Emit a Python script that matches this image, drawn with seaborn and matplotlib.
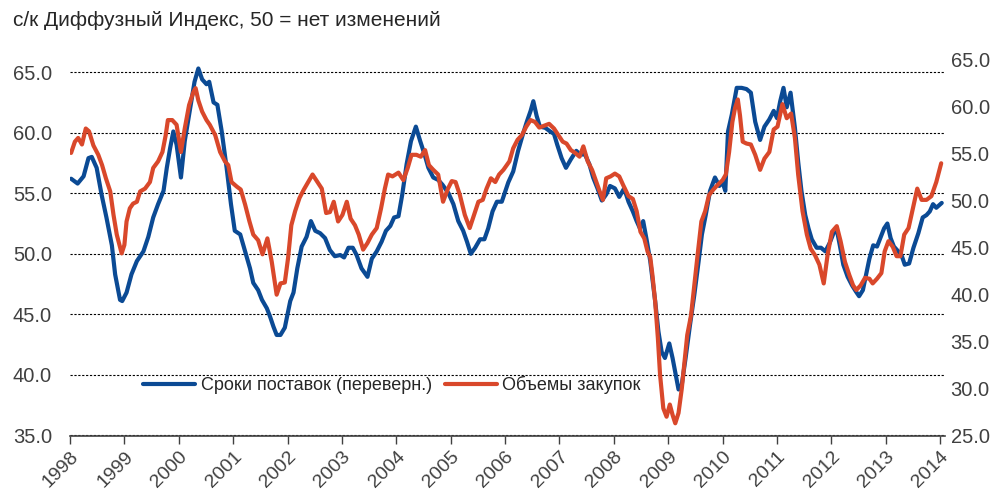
import matplotlib
matplotlib.use("Agg")
import matplotlib.pyplot as plt
import seaborn as sns

sns.set_theme(style="white")
plt.rcParams["font.family"] = ["Liberation Sans", "DejaVu Sans"]

title = "с/к Диффузный Индекс, 50 = нет изменений"
label_deliv = "Сроки поставок (переверн.)"
label_purch = "Объемы закупок"
years = list(range(1998, 2015))
left_ticks = [35, 40, 45, 50, 55, 60, 65]
right_ticks = [25, 30, 35, 40, 45, 50, 55, 60, 65]

# сроки поставок (левая шкала)
deliv_t = [1998.02, 1998.14, 1998.25, 1998.34, 1998.40, 1998.49, 1998.58, 1998.67, 1998.77, 1998.83,
           1998.92, 1998.96, 1999.04, 1999.13, 1999.23, 1999.35, 1999.44, 1999.53, 1999.62, 1999.72,
           1999.78, 1999.84, 1999.90, 1999.96, 2000.04, 2000.11, 2000.21, 2000.29, 2000.36, 2000.43,
           2000.51, 2000.56, 2000.64, 2000.71, 2000.79, 2000.88, 2000.96, 2001.03, 2001.13, 2001.22,
           2001.31, 2001.37, 2001.46, 2001.53, 2001.62, 2001.68, 2001.74, 2001.80, 2001.87, 2001.95,
           2002.05, 2002.11, 2002.18, 2002.26, 2002.35, 2002.43, 2002.51, 2002.60, 2002.69, 2002.78,
           2002.87, 2002.97, 2003.04, 2003.12, 2003.20, 2003.27, 2003.36, 2003.47, 2003.55, 2003.64,
           2003.73, 2003.81, 2003.89, 2003.96, 2004.04, 2004.11, 2004.19, 2004.27, 2004.36, 2004.44,
           2004.52, 2004.59, 2004.68, 2004.77, 2004.85, 2004.96, 2005.05, 2005.14, 2005.23, 2005.30,
           2005.37, 2005.45, 2005.54, 2005.62, 2005.69, 2005.77, 2005.85, 2005.94, 2006.06, 2006.15,
           2006.24, 2006.33, 2006.40, 2006.47, 2006.52, 2006.58, 2006.64, 2006.74, 2006.83, 2006.90,
           2006.96, 2007.04, 2007.12, 2007.21, 2007.31, 2007.38, 2007.47, 2007.55, 2007.62, 2007.70,
           2007.78, 2007.86, 2007.93, 2008.02, 2008.10, 2008.19, 2008.27, 2008.35, 2008.42, 2008.48,
           2008.54, 2008.61, 2008.67, 2008.76, 2008.82, 2008.88, 2008.94, 2009.02, 2009.08, 2009.14,
           2009.19, 2009.25, 2009.32, 2009.40, 2009.48, 2009.56, 2009.62, 2009.69, 2009.77, 2009.86,
           2009.94, 2010.00, 2010.05, 2010.10, 2010.17, 2010.26, 2010.35, 2010.44, 2010.52, 2010.60,
           2010.69, 2010.77, 2010.86, 2010.94, 2011.00, 2011.06, 2011.12, 2011.18, 2011.25, 2011.33,
           2011.39, 2011.45, 2011.52, 2011.58, 2011.64, 2011.73, 2011.81, 2011.89, 2011.97, 2012.04,
           2012.10, 2012.16, 2012.22, 2012.30, 2012.38, 2012.45, 2012.51, 2012.58, 2012.64, 2012.70,
           2012.77, 2012.84, 2012.91, 2012.97, 2013.03, 2013.09, 2013.15, 2013.23, 2013.29, 2013.35,
           2013.43, 2013.51, 2013.60, 2013.68, 2013.75, 2013.81, 2013.87, 2013.93, 2014.03]
deliv_v = [56.2, 55.8, 56.4, 57.9, 58.0, 57.1, 54.9, 53.0, 50.7, 48.3,
           46.2, 46.1, 46.8, 48.3, 49.4, 50.2, 51.4, 53.0, 54.1, 55.2,
           57.1, 58.7, 60.1, 59.0, 56.3, 59.3, 62.0, 64.2, 65.3, 64.4,
           64.0, 64.2, 62.5, 62.3, 60.1, 57.1, 54.1, 51.9, 51.6, 50.2,
           48.8, 47.6, 47.0, 46.2, 45.5, 44.8, 44.0, 43.3, 43.3, 43.9,
           46.1, 46.8, 48.8, 50.6, 51.4, 52.7, 51.9, 51.7, 51.3, 50.3,
           49.8, 49.9, 49.7, 50.5, 50.5, 49.9, 48.8, 48.1, 49.6, 50.2,
           51.0, 51.9, 52.3, 53.0, 53.1, 54.9, 57.4, 59.3, 60.5, 59.3,
           58.2, 57.1, 56.3, 56.1, 55.7, 55.0, 54.1, 52.7, 51.9, 51.0,
           50.0, 50.5, 51.2, 51.2, 52.1, 53.5, 54.3, 54.3, 55.9, 56.8,
           58.5, 59.9, 60.9, 61.8, 62.6, 61.4, 60.5, 60.4, 60.1, 59.9,
           59.0, 57.9, 57.1, 57.8, 58.5, 58.2, 58.2, 57.4, 56.3, 55.4,
           54.4, 54.9, 55.6, 55.4, 54.7, 55.4, 54.3, 53.5, 52.7, 52.1,
           52.7, 51.0, 49.4, 46.1, 43.6, 41.9, 41.4, 42.6, 41.4, 40.0,
           38.8, 39.2, 41.4, 44.1, 46.6, 49.4, 51.6, 53.2, 55.2, 56.3,
           55.6, 55.9, 55.2, 60.1, 61.5, 63.7, 63.7, 63.6, 63.3, 60.9,
           59.4, 60.5, 61.1, 61.8, 61.2, 62.6, 63.7, 62.1, 63.3, 60.4,
           57.6, 55.2, 53.2, 52.1, 51.2, 50.5, 50.5, 50.2, 50.9, 51.7,
           52.0, 50.6, 49.1, 48.1, 47.4, 46.9, 46.5, 47.0, 48.3, 49.6,
           50.7, 50.6, 51.4, 52.1, 52.5, 51.3, 50.6, 50.2, 49.9, 49.1,
           49.2, 50.5, 51.7, 53.0, 53.2, 53.5, 54.1, 53.8, 54.2]

# объемы закупок (правая шкала)
purch_t = [1998.02, 1998.09, 1998.15, 1998.22, 1998.29, 1998.35, 1998.43, 1998.52, 1998.59, 1998.66,
           1998.74, 1998.80, 1998.86, 1998.95, 1999.00, 1999.04, 1999.10, 1999.16, 1999.23, 1999.29,
           1999.38, 1999.47, 1999.53, 1999.62, 1999.70, 1999.76, 1999.80, 1999.88, 1999.96, 2000.04,
           2000.11, 2000.19, 2000.27, 2000.31, 2000.36, 2000.43, 2000.51, 2000.57, 2000.67, 2000.76,
           2000.85, 2000.91, 2000.97, 2001.07, 2001.14, 2001.22, 2001.30, 2001.37, 2001.46, 2001.54,
           2001.63, 2001.71, 2001.80, 2001.87, 2001.95, 2002.01, 2002.07, 2002.14, 2002.22, 2002.30,
           2002.38, 2002.46, 2002.55, 2002.63, 2002.71, 2002.78, 2002.85, 2002.93, 2003.01, 2003.09,
           2003.16, 2003.24, 2003.31, 2003.39, 2003.47, 2003.55, 2003.64, 2003.72, 2003.79, 2003.85,
           2003.93, 2004.04, 2004.13, 2004.21, 2004.28, 2004.37, 2004.45, 2004.53, 2004.60, 2004.68,
           2004.77, 2004.86, 2004.95, 2005.02, 2005.09, 2005.17, 2005.26, 2005.35, 2005.43, 2005.51,
           2005.59, 2005.66, 2005.74, 2005.82, 2005.89, 2005.97, 2006.08, 2006.15, 2006.23, 2006.31,
           2006.39, 2006.47, 2006.55, 2006.63, 2006.72, 2006.81, 2006.90, 2006.98, 2007.06, 2007.13,
           2007.21, 2007.29, 2007.37, 2007.44, 2007.52, 2007.60, 2007.68, 2007.74, 2007.80, 2007.86,
           2007.94, 2008.02, 2008.10, 2008.17, 2008.27, 2008.35, 2008.42, 2008.49, 2008.56, 2008.62,
           2008.67, 2008.71, 2008.76, 2008.81, 2008.85, 2008.91, 2008.97, 2009.03, 2009.08, 2009.13,
           2009.19, 2009.25, 2009.30, 2009.35, 2009.42, 2009.48, 2009.54, 2009.61, 2009.68, 2009.75,
           2009.83, 2009.91, 2010.00, 2010.06, 2010.12, 2010.18, 2010.23, 2010.28, 2010.32, 2010.37,
           2010.44, 2010.52, 2010.60, 2010.69, 2010.77, 2010.86, 2010.94, 2011.01, 2011.10, 2011.18,
           2011.26, 2011.33, 2011.39, 2011.47, 2011.55, 2011.62, 2011.70, 2011.78, 2011.86, 2011.93,
           2012.01, 2012.10, 2012.17, 2012.25, 2012.33, 2012.40, 2012.46, 2012.54, 2012.62, 2012.70,
           2012.76, 2012.84, 2012.92, 2012.98, 2013.05, 2013.13, 2013.20, 2013.27, 2013.34, 2013.42,
           2013.50, 2013.58, 2013.66, 2013.75, 2013.84, 2013.93, 2014.02]
purch_v = [55.1, 56.3, 56.7, 56.0, 57.7, 57.4, 55.9, 54.9, 53.8, 52.4,
           51.0, 48.5, 46.4, 44.4, 45.3, 47.8, 49.2, 49.7, 49.9, 51.0,
           51.3, 52.0, 53.5, 54.2, 55.2, 57.0, 58.6, 58.6, 58.1, 55.2,
           57.7, 60.2, 61.6, 62.0, 60.7, 59.5, 58.6, 58.1, 57.0, 55.2,
           54.2, 53.8, 52.0, 51.5, 51.2, 49.6, 47.8, 46.4, 45.8, 44.3,
           46.0, 43.5, 40.0, 41.2, 41.3, 43.9, 47.4, 48.9, 50.3, 51.2,
           52.0, 52.8, 52.0, 51.3, 48.7, 48.8, 49.9, 47.8, 48.5, 49.9,
           48.1, 47.4, 46.4, 44.8, 45.5, 46.4, 47.1, 49.2, 51.3, 52.8,
           52.6, 53.0, 52.2, 53.5, 54.9, 54.9, 54.7, 55.4, 53.8, 53.3,
           52.8, 49.9, 51.3, 52.1, 52.0, 50.6, 48.5, 47.1, 48.5, 49.9,
           50.1, 51.3, 52.4, 52.0, 52.8, 53.3, 54.2, 55.6, 56.5, 57.0,
           57.9, 58.6, 58.4, 57.8, 58.0, 58.2, 57.7, 57.0, 56.3, 56.1,
           55.4, 55.1, 54.7, 55.8, 54.2, 53.3, 52.0, 51.0, 50.1, 52.4,
           52.6, 52.9, 52.6, 51.7, 50.5, 50.2, 48.9, 46.7, 46.0, 44.6,
           44.0, 42.1, 39.3, 35.4, 31.5, 27.9, 27.0, 28.3, 27.2, 26.3,
           27.4, 30.0, 32.9, 35.7, 37.8, 41.0, 44.2, 47.8, 48.9, 50.6,
           51.2, 51.7, 52.2, 52.8, 55.2, 58.4, 59.9, 60.8, 59.1, 56.3,
           56.1, 56.0, 54.9, 53.3, 54.5, 55.2, 57.6, 57.9, 60.3, 58.8,
           59.3, 56.7, 52.8, 48.9, 46.4, 44.9, 44.2, 43.2, 41.2, 44.2,
           46.7, 47.3, 45.7, 43.5, 42.1, 41.0, 40.5, 41.0, 41.8, 41.7,
           41.2, 41.7, 42.3, 44.6, 45.7, 45.1, 44.1, 44.1, 46.4, 47.1,
           49.2, 51.3, 50.1, 50.1, 50.5, 52.0, 54.0]

BLUE = "#0b4a94"
RED = "#d9482b"
GREY = "#404040"

fig = plt.figure(figsize=(10.06, 4.91), dpi=100)
ax = fig.add_axes([70 / 1006, 1 - 435.5 / 491, 875 / 1006, 375.5 / 491])
ax2 = ax.twinx()

sns.lineplot(x=deliv_t, y=deliv_v, ax=ax, color=BLUE, linewidth=3.0, legend=False)
sns.lineplot(x=purch_t, y=purch_v, ax=ax2, color=RED, linewidth=3.0, legend=False)

ax.set_xlim(1998, 2014.09)
ax.set_ylim(35, 66)
ax2.set_ylim(25, 65)

ax.set_xticks(years)
ax.set_xticklabels([str(y) for y in years], rotation=45, ha="right", rotation_mode="anchor")
ax.set_yticks(left_ticks)
ax.set_yticklabels([f"{v:.1f}" for v in left_ticks])
ax2.set_yticks(right_ticks)
ax2.set_yticklabels([f"{v:.1f}" for v in right_ticks])

ax.grid(axis="y", color="black", linewidth=0.8, linestyle=(0, (2, 1.5)))
ax.grid(axis="x", visible=False)
ax2.grid(False)

for side in ["left", "right", "top"]:
    ax.spines[side].set_visible(False)
for side in ax2.spines:
    ax2.spines[side].set_visible(False)
ax.spines["bottom"].set_color(GREY)
ax.spines["bottom"].set_linewidth(1.2)

ax.tick_params(axis="x", bottom=True, direction="out", length=6, width=1, color=GREY,
               labelsize=14, labelcolor=GREY, pad=3)
ax.tick_params(axis="y", left=False, length=0, labelsize=14.5, labelcolor=GREY, pad=13)
ax2.tick_params(axis="y", right=False, length=0, labelsize=14.5, labelcolor=GREY, pad=4)
ax.set_xlabel("")
ax.set_ylabel("")
ax2.set_ylabel("")

handles = [ax.lines[0], ax2.lines[0]]
ax2.legend(handles, [label_deliv, label_purch], loc="center left",
           bbox_to_anchor=(0.065, 0.135), frameon=False, ncol=2, fontsize=13,
           handlelength=2.9, handletextpad=0.3, columnspacing=0.7,
           labelcolor="#262626")

fig.text(13 / 1006, 1 - 21 / 491, title, ha="left", va="center", fontsize=15, color="#262626")

fig.savefig("out.png", dpi=100)
